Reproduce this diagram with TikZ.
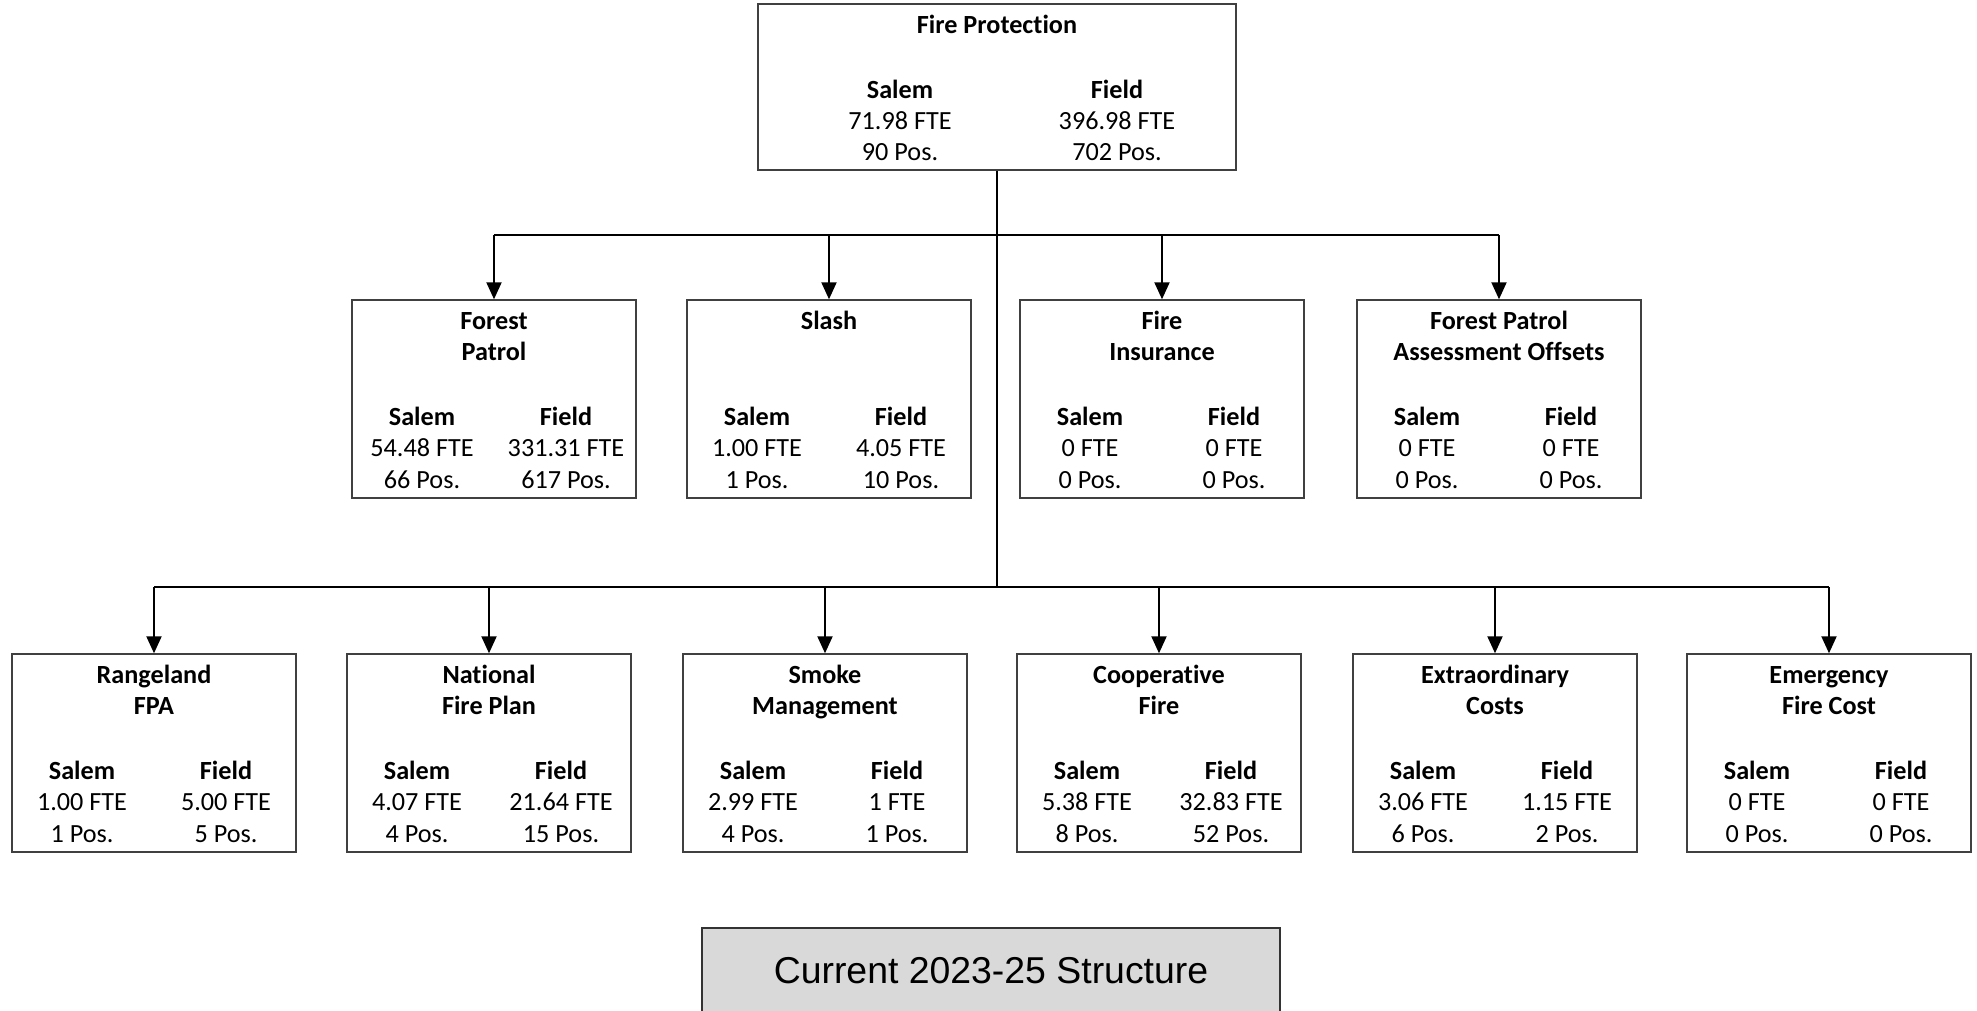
\documentclass[tikz,border=0pt]{standalone}
\usepackage{fontspec}
\setmainfont{Carlito}[Ligatures=NoCommon]
\newfontfamily\arialfont{Liberation Sans}
\usetikzlibrary{arrows.meta, positioning, calc}
\tikzset{
   unitbox/.style={draw=black!75, line width=0.7pt, minimum width=142pt, minimum height=99pt, inner sep=0pt},
   headlbl/.style={anchor=base, font=\fontsize{13.1}{15.6}\selectfont\bfseries, inner sep=0pt},
   numlbl/.style={anchor=base, font=\fontsize{13.1}{15.6}\selectfont, inner sep=0pt},
   bus/.style={line width=1pt},
   feed/.style={-{Triangle[length=8.5pt,width=7.5pt]}, line width=1pt},
   capbox/.style={draw=black!80, line width=0.7pt, fill=black!15, minimum width=289pt, minimum height=43pt, font=\arialfont\fontsize{18.7}{23}\selectfont}
}

\begin{document}
\begin{tikzpicture}[x=0.5pt, y=-0.5pt]
      \useasboundingbox (0,0) rectangle (1977,1011);
      % top box
      \node[unitbox, minimum width=239pt, minimum height=83pt] (fireprot) at (997,87) {};
      \node[headlbl] (fireprot-t) at ($(fireprot.north)+(0,30)$) {Fire Protection};
      \node[headlbl] (fireprot-s) at ($(fireprot.north)+(-97,95)$) {Salem};
      \node[headlbl] (fireprot-f) at ($(fireprot.north)+(120,95)$) {Field};
      \node[numlbl] (fireprot-sf) at ($(fireprot.north)+(-97,126)$) {71.98 FTE};
      \node[numlbl] (fireprot-sp) at ($(fireprot.north)+(-97,157)$) {90 Pos.};
      \node[numlbl] (fireprot-ff) at ($(fireprot.north)+(120,126)$) {396.98 FTE};
      \node[numlbl] (fireprot-fp) at ($(fireprot.north)+(120,157)$) {702 Pos.};
      % program boxes
      \foreach \id/\cx/\cy/\ta/\tb/\sfte/\spos/\ffte/\fpos in {
         patrol/494/399/Forest/Patrol/54.48/66/331.31/617,
         slash/829/399/Slash/{}/1.00/1/4.05/10,
         insur/1162/399/Fire/Insurance/0/0/0/0,
         fpao/1499/399/Forest Patrol/Assessment Offsets/0/0/0/0,
         range/154/753/Rangeland/FPA/1.00/1/5.00/5,
         nfp/489/753/National/Fire Plan/4.07/4/21.64/15,
         smoke/825/753/Smoke/Management/2.99/4/1/1,
         coop/1159/753/Cooperative/Fire/5.38/8/32.83/52,
         extra/1495/753/Extraordinary/Costs/3.06/6/1.15/2,
         emerg/1829/753/Emergency/Fire Cost/0/0/0/0}
      {
         \node[unitbox] (\id) at (\cx,\cy) {};
         \node[headlbl] (\id-t1) at ($(\id.north)+(0,30)$) {\ta};
         \node[headlbl] (\id-t2) at ($(\id.north)+(0,61)$) {\tb};
         \node[headlbl] (\id-s) at ($(\id.north)+(-72,126)$) {Salem};
         \node[headlbl] (\id-f) at ($(\id.north)+(72,126)$) {Field};
         \node[numlbl] (\id-sf) at ($(\id.north)+(-72,157)$) {\sfte\ FTE};
         \node[numlbl] (\id-sp) at ($(\id.north)+(-72,189)$) {\spos\ Pos.};
         \node[numlbl] (\id-ff) at ($(\id.north)+(72,157)$) {\ffte\ FTE};
         \node[numlbl] (\id-fp) at ($(\id.north)+(72,189)$) {\fpos\ Pos.};
      }
      % connectors
      \coordinate (bus1) at (997,235);
      \coordinate (bus2) at (997,587);
      \draw[bus] (fireprot.south) -- (bus2);
      \draw[bus] (patrol.north |- bus1) -- (fpao.north |- bus1);
      \draw[bus] (range.north |- bus2) -- (emerg.north |- bus2);
      \foreach \id in {patrol, slash, insur, fpao}
         \draw[feed] (\id.north |- bus1) -- (\id.north);
      \foreach \id in {range, nfp, smoke, coop, extra, emerg}
         \draw[feed] (\id.north |- bus2) -- (\id.north);
      % caption
      \node[capbox] (caption) at (991,971) {Current 2023-25 Structure};
\end{tikzpicture}
\end{document}
